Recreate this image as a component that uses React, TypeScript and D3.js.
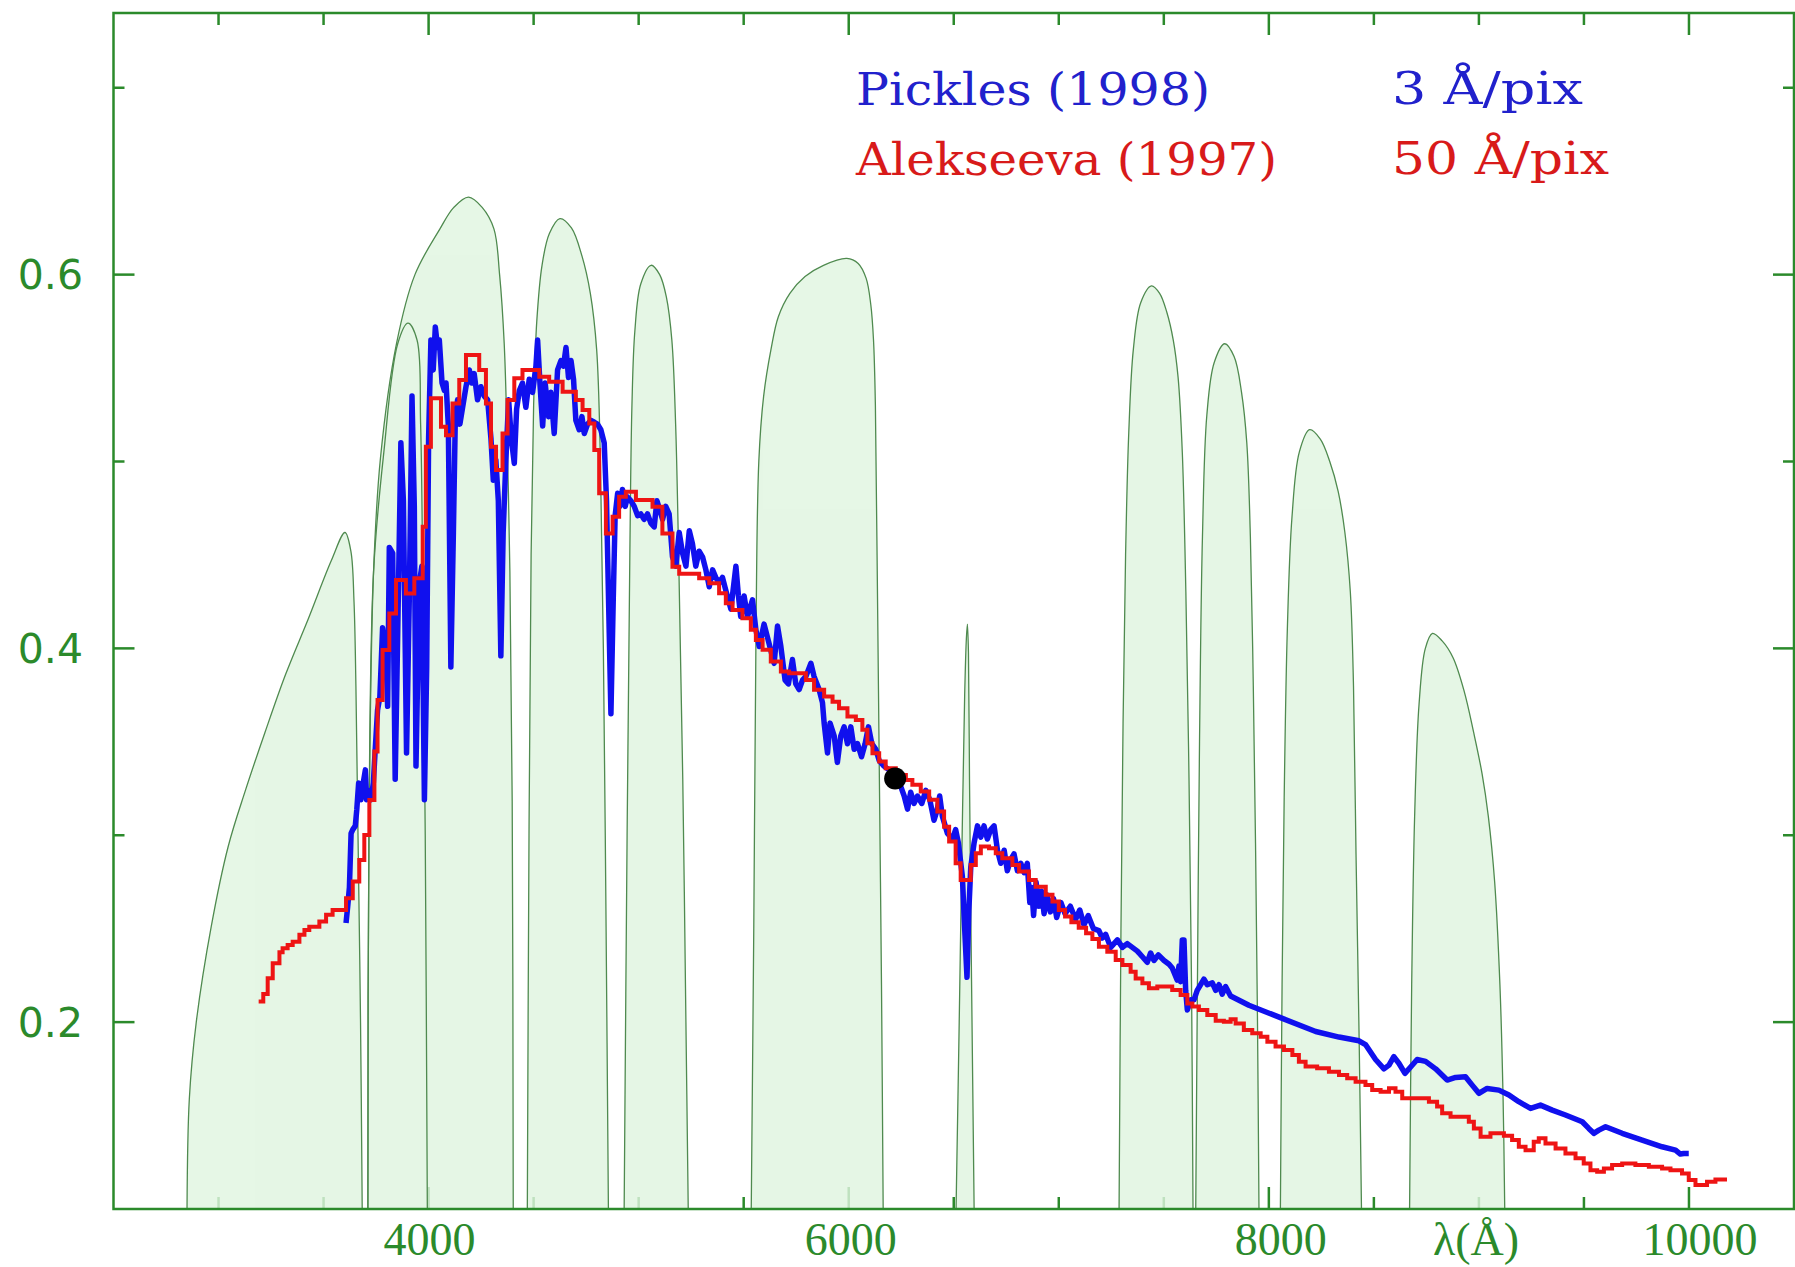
import * as d3 from "d3";

type Pt = [number, number];

// Pickles (1998) spectrum: [wavelength Å, flux]
const picklesFlux: Pt[] = [
  [3607, 0.253], [3615, 0.262], [3623, 0.272], [3631, 0.301], [3639, 0.303], [3651, 0.305], [3658, 0.3135],
  [3667, 0.328], [3678, 0.319], [3686, 0.326], [3699, 0.335], [3705, 0.319], [3715, 0.324], [3726, 0.319],
  [3737, 0.328], [3746, 0.346], [3757, 0.367], [3768, 0.374], [3781, 0.411], [3797, 0.397], [3805, 0.369],
  [3813, 0.454], [3829, 0.451], [3841, 0.33], [3853, 0.408], [3868, 0.51], [3880, 0.479], [3895, 0.344],
  [3908, 0.426], [3921, 0.535], [3932, 0.476], [3940, 0.337], [3956, 0.435], [3968, 0.444], [3980, 0.319],
  [3991, 0.39], [4000, 0.512], [4011, 0.565], [4022, 0.549], [4032, 0.572], [4043, 0.561], [4051, 0.565],
  [4064, 0.542], [4075, 0.538], [4083, 0.542], [4094, 0.519], [4106, 0.39], [4118, 0.462], [4127, 0.522],
  [4138, 0.533], [4149, 0.52], [4162, 0.529], [4178, 0.54], [4194, 0.549], [4205, 0.542], [4217, 0.547],
  [4233, 0.533], [4249, 0.54], [4265, 0.535], [4281, 0.533], [4297, 0.512], [4308, 0.49], [4320, 0.501],
  [4332, 0.479], [4344, 0.396], [4355, 0.462], [4368, 0.501], [4381, 0.533], [4394, 0.512], [4408, 0.499],
  [4419, 0.528], [4432, 0.538], [4447, 0.542], [4463, 0.529], [4479, 0.544], [4495, 0.537], [4511, 0.551],
  [4519, 0.565], [4530, 0.542], [4543, 0.519], [4555, 0.542], [4571, 0.524], [4582, 0.537], [4598, 0.515],
  [4614, 0.549], [4630, 0.554], [4642, 0.551], [4654, 0.561], [4666, 0.545], [4678, 0.554], [4690, 0.544],
  [4701, 0.522], [4717, 0.517], [4730, 0.524], [4741, 0.515], [4757, 0.52], [4773, 0.522], [4789, 0.521],
  [4804, 0.52], [4820, 0.517], [4836, 0.51], [4847, 0.479], [4860, 0.408], [4868, 0.365], [4879, 0.426],
  [4888, 0.471], [4900, 0.483], [4911, 0.476], [4923, 0.485], [4936, 0.476], [4947, 0.481], [4963, 0.479],
  [4979, 0.476], [4995, 0.471], [5010, 0.472], [5026, 0.469], [5042, 0.472], [5058, 0.467], [5074, 0.465],
  [5087, 0.479], [5101, 0.474], [5114, 0.469], [5129, 0.476], [5145, 0.472], [5161, 0.449], [5177, 0.444],
  [5193, 0.462], [5209, 0.451], [5225, 0.444], [5241, 0.463], [5256, 0.456], [5272, 0.444], [5288, 0.452],
  [5304, 0.449], [5320, 0.442], [5336, 0.433], [5352, 0.442], [5367, 0.438], [5383, 0.435], [5399, 0.438],
  [5415, 0.431], [5439, 0.421], [5463, 0.444], [5475, 0.428], [5486, 0.417], [5502, 0.428], [5518, 0.417],
  [5542, 0.426], [5558, 0.41], [5574, 0.401], [5597, 0.413], [5613, 0.406], [5629, 0.399], [5645, 0.392],
  [5661, 0.412], [5677, 0.401], [5697, 0.383], [5713, 0.381], [5732, 0.394], [5748, 0.381], [5764, 0.378],
  [5780, 0.383], [5796, 0.385], [5820, 0.392], [5835, 0.385], [5859, 0.378], [5875, 0.371], [5883, 0.36],
  [5899, 0.344], [5911, 0.36], [5931, 0.353], [5946, 0.339], [5962, 0.353], [5978, 0.358], [5994, 0.349],
  [6010, 0.358], [6026, 0.346], [6042, 0.349], [6061, 0.342], [6078, 0.349], [6094, 0.358], [6110, 0.349],
  [6129, 0.346], [6145, 0.34], [6168, 0.337], [6192, 0.335], [6224, 0.331], [6248, 0.326], [6264, 0.321],
  [6280, 0.314], [6295, 0.323], [6311, 0.317], [6327, 0.321], [6348, 0.317], [6367, 0.324], [6386, 0.319],
  [6406, 0.308], [6422, 0.314], [6433, 0.321], [6446, 0.31], [6470, 0.301], [6494, 0.298], [6509, 0.303],
  [6522, 0.296], [6541, 0.278], [6552, 0.25], [6563, 0.224], [6572, 0.26], [6581, 0.283], [6597, 0.296],
  [6613, 0.305], [6629, 0.299], [6644, 0.305], [6660, 0.298], [6676, 0.303], [6692, 0.305], [6708, 0.292],
  [6724, 0.285], [6740, 0.292], [6755, 0.281], [6771, 0.287], [6787, 0.29], [6803, 0.281], [6819, 0.285],
  [6835, 0.28], [6850, 0.285], [6862, 0.264], [6871, 0.272], [6880, 0.257], [6892, 0.275], [6905, 0.262],
  [6918, 0.27], [6930, 0.258], [6945, 0.268], [6960, 0.259], [6975, 0.266], [6990, 0.256], [7010, 0.264],
  [7030, 0.258], [7055, 0.262], [7080, 0.255], [7100, 0.26], [7120, 0.252], [7140, 0.257], [7165, 0.25],
  [7191, 0.249], [7207, 0.245], [7223, 0.247], [7247, 0.24], [7279, 0.244], [7303, 0.24], [7326, 0.242],
  [7350, 0.24], [7374, 0.238], [7398, 0.235], [7421, 0.232], [7437, 0.237], [7453, 0.233], [7474, 0.236],
  [7501, 0.233], [7525, 0.231], [7540, 0.229], [7564, 0.2225], [7572, 0.23], [7580, 0.2216], [7588, 0.244],
  [7596, 0.244], [7604, 0.217], [7612, 0.2065], [7628, 0.212], [7644, 0.212], [7659, 0.217], [7691, 0.223],
  [7707, 0.22], [7731, 0.221], [7747, 0.217], [7763, 0.22], [7778, 0.215], [7794, 0.219], [7818, 0.214],
  [7905, 0.209], [8064, 0.202], [8223, 0.195], [8334, 0.192], [8429, 0.19], [8460, 0.188], [8508, 0.18],
  [8548, 0.175], [8572, 0.177], [8595, 0.1815], [8619, 0.178], [8648, 0.1726], [8675, 0.176], [8706, 0.18],
  [8746, 0.179], [8794, 0.175], [8849, 0.169], [8889, 0.1704], [8936, 0.1708], [8968, 0.1663], [9000, 0.1619],
  [9039, 0.1645], [9095, 0.1636], [9143, 0.161], [9190, 0.1574], [9246, 0.1538], [9293, 0.1556], [9349, 0.1529],
  [9412, 0.1503], [9492, 0.1467], [9523, 0.1431], [9547, 0.1405], [9571, 0.1422], [9603, 0.144], [9682, 0.1405],
  [9777, 0.1369], [9872, 0.1333], [9936, 0.1315], [9959, 0.1294], [9975, 0.1297], [9999, 0.1297],
];

// Alekseeva (1997) spectrum, binned: [bin start Å, flux]
const alekseevaFlux: Pt[] = [
  [3191, 0.211], [3213, 0.215], [3234, 0.2235], [3258, 0.2315], [3290, 0.2374], [3305, 0.2395], [3329, 0.2413],
  [3353, 0.243], [3385, 0.2467], [3409, 0.2493], [3432, 0.251], [3480, 0.2538], [3512, 0.2574], [3543, 0.26],
  [3607, 0.2663], [3639, 0.2752], [3670, 0.2868], [3694, 0.3002], [3718, 0.3189], [3742, 0.3448], [3757, 0.3724],
  [3781, 0.3991], [3813, 0.4187], [3845, 0.4366], [3892, 0.4294], [3932, 0.4375], [3972, 0.4651], [3987, 0.5079],
  [4011, 0.5338], [4059, 0.5186], [4083, 0.514], [4114, 0.5311], [4146, 0.5436], [4178, 0.557], [4241, 0.549],
  [4273, 0.5311], [4297, 0.5079], [4321, 0.4954], [4352, 0.515], [4376, 0.5329], [4408, 0.5445], [4447, 0.549],
  [4527, 0.5454], [4574, 0.5427], [4638, 0.5373], [4701, 0.5329], [4733, 0.5275], [4765, 0.5204], [4789, 0.5061],
  [4812, 0.483], [4844, 0.4615], [4876, 0.4705], [4907, 0.4812], [4939, 0.4838], [4987, 0.4794], [5066, 0.4758],
  [5113, 0.4615], [5161, 0.4437], [5193, 0.44], [5288, 0.4375], [5336, 0.4349], [5383, 0.4295], [5415, 0.4241],
  [5447, 0.4206], [5494, 0.4161], [5534, 0.4099], [5558, 0.4045], [5590, 0.3992], [5629, 0.393], [5677, 0.3876],
  [5716, 0.3867], [5796, 0.3831], [5835, 0.3778], [5883, 0.3742], [5923, 0.3715], [5954, 0.368], [5994, 0.3635],
  [6034, 0.3617], [6065, 0.3564], [6089, 0.3492], [6113, 0.3439], [6145, 0.3394], [6176, 0.3359], [6224, 0.3323],
  [6272, 0.3296], [6303, 0.327], [6343, 0.3234], [6383, 0.319], [6422, 0.3127], [6454, 0.3046], [6478, 0.2966],
  [6509, 0.285], [6533, 0.2761], [6581, 0.2841], [6605, 0.2904], [6629, 0.294], [6668, 0.2931], [6700, 0.2904],
  [6731, 0.2877], [6779, 0.2841], [6811, 0.2806], [6858, 0.2761], [6890, 0.2725], [6938, 0.2681], [6970, 0.2645],
  [7000, 0.26], [7030, 0.2565], [7060, 0.2535], [7095, 0.2505], [7130, 0.2475], [7160, 0.2445], [7191, 0.2404],
  [7231, 0.2377], [7271, 0.2332], [7303, 0.2306], [7342, 0.227], [7366, 0.2234], [7398, 0.2208], [7429, 0.2181],
  [7469, 0.219], [7540, 0.2172], [7580, 0.2145], [7612, 0.21], [7636, 0.2083], [7667, 0.2065], [7707, 0.2038],
  [7747, 0.2008], [7786, 0.2002], [7818, 0.2015], [7842, 0.1993], [7881, 0.1958], [7921, 0.194], [7961, 0.1922],
  [7993, 0.1895], [8032, 0.1869], [8072, 0.1851], [8112, 0.1824], [8143, 0.1788], [8175, 0.1762], [8230, 0.1753],
  [8286, 0.1735], [8334, 0.1717], [8373, 0.1699], [8413, 0.1681], [8460, 0.1664], [8492, 0.1637], [8532, 0.1628],
  [8572, 0.1646], [8603, 0.1628], [8635, 0.1592], [8762, 0.1574], [8801, 0.1548], [8825, 0.1512], [8865, 0.1494],
  [8952, 0.1467], [8976, 0.1431], [9008, 0.1387], [9055, 0.1405], [9119, 0.1392], [9158, 0.1369], [9190, 0.1333],
  [9222, 0.1315], [9261, 0.136], [9285, 0.1378], [9317, 0.1351], [9365, 0.1324], [9412, 0.1297], [9460, 0.1271],
  [9499, 0.1244], [9531, 0.1208], [9563, 0.1199], [9595, 0.1217], [9634, 0.1235], [9682, 0.1244], [9745, 0.1235],
  [9809, 0.1226], [9872, 0.1217], [9912, 0.1208], [9967, 0.119], [9999, 0.1155], [10031, 0.1128], [10086, 0.1146],
  [10126, 0.1158], [10181, 0.1158],
];

// filter transmission curves (scaled to the flux axis)
const filterU: Pt[] = [
  [2850, 0.1], [2861, 0.159], [2894, 0.2], [2965, 0.251], [3046, 0.294], [3128, 0.324], [3221, 0.355],
  [3319, 0.386], [3428, 0.416], [3537, 0.447], [3602, 0.462], [3630, 0.452], [3645, 0.425], [3654, 0.38],
  [3664, 0.3], [3676, 0.2], [3684, 0.1],
];
const filter3900: Pt[] = [
  [3711, 0.1], [3716, 0.3], [3738, 0.441], [3787, 0.505], [3853, 0.563], [3902, 0.574], [3945, 0.565],
  [3962, 0.52], [3972, 0.44], [3984, 0.3], [3994, 0.1],
];
const filter4190: Pt[] = [
  [3711, 0.1], [3716, 0.3], [3738, 0.441], [3771, 0.502], [3847, 0.563], [3935, 0.6], [4054, 0.6245],
  [4120, 0.636], [4190, 0.6415], [4255, 0.636], [4311, 0.6245], [4338, 0.6], [4360, 0.563], [4376, 0.502],
  [4387, 0.441], [4398, 0.318], [4403, 0.1],
];
const filter4630: Pt[] = [
  [4470, 0.1], [4478, 0.3], [4488, 0.45], [4500, 0.53], [4515, 0.575], [4540, 0.605], [4575, 0.622],
  [4625, 0.63], [4680, 0.625], [4730, 0.61], [4770, 0.59], [4800, 0.56], [4818, 0.5], [4832, 0.4],
  [4845, 0.25], [4856, 0.1],
];
const filter5060: Pt[] = [
  [4931, 0.1], [4945, 0.3], [4958, 0.45], [4968, 0.53], [4982, 0.57], [5010, 0.595], [5059, 0.605],
  [5100, 0.6], [5132, 0.588], [5158, 0.565], [5176, 0.52], [5192, 0.44], [5210, 0.33], [5225, 0.2], [5236, 0.1],
];
const filter6000: Pt[] = [
  [5536, 0.1], [5548, 0.25], [5558, 0.4], [5572, 0.5], [5595, 0.535], [5630, 0.56], [5665, 0.5775],
  [5720, 0.59], [5792, 0.599], [5880, 0.605], [5991, 0.6087], [6045, 0.606], [6083, 0.598], [6105, 0.584],
  [6118, 0.565], [6127, 0.53], [6135, 0.45], [6146, 0.33], [6156, 0.22], [6164, 0.1],
];
const filter6565: Pt[] = [
  [6511, 0.1], [6526, 0.2], [6540, 0.3], [6552, 0.375], [6560, 0.405], [6565, 0.413], [6570, 0.398],
  [6575, 0.33], [6582, 0.25], [6590, 0.17], [6597, 0.1],
];
const filter7440: Pt[] = [
  [7287, 0.1], [7296, 0.25], [7306, 0.36], [7318, 0.45], [7333, 0.515], [7355, 0.56], [7390, 0.585],
  [7441, 0.594], [7480, 0.59], [7514, 0.58], [7545, 0.565], [7568, 0.545], [7588, 0.505], [7605, 0.43],
  [7620, 0.33], [7632, 0.22], [7639, 0.1],
];
const filter7790: Pt[] = [
  [7652, 0.1], [7660, 0.22], [7670, 0.35], [7684, 0.46], [7705, 0.525], [7740, 0.553], [7790, 0.563],
  [7835, 0.556], [7870, 0.537], [7895, 0.51], [7912, 0.46], [7926, 0.38], [7937, 0.292], [7946, 0.2], [7953, 0.1],
];
const filter8190: Pt[] = [
  [8055, 0.1], [8063, 0.22], [8073, 0.32], [8088, 0.41], [8110, 0.47], [8145, 0.505], [8194, 0.517],
  [8245, 0.512], [8290, 0.5], [8330, 0.484], [8362, 0.462], [8388, 0.43], [8403, 0.38], [8415, 0.29],
  [8430, 0.19], [8441, 0.1],
];
const filter8780: Pt[] = [
  [8670, 0.1], [8680, 0.22], [8694, 0.31], [8715, 0.37], [8745, 0.4], [8779, 0.408], [8825, 0.404],
  [8877, 0.395], [8930, 0.377], [8975, 0.355], [9015, 0.333], [9045, 0.31], [9075, 0.275], [9100, 0.22],
  [9115, 0.16], [9123, 0.1],
];
const filterCurves = [
  filterU, filter4190, filter3900, filter4630, filter5060, filter6000,
  filter6565, filter7440, filter7790, filter8190, filter8780,
];

const normPoint: Pt = [6221, 0.3304];

const yMajorTicks = [0.2, 0.4, 0.6];
const yMinorTicks = [0.3, 0.5, 0.7];
const yTickLabels = ["0.2", "0.4", "0.6"];
const xMajorTicks = [4000, 6000, 8000, 10000];
const xMinorTicks = [3000, 3500, 4500, 5000, 5500, 6500, 7000, 7500, 8500, 9000, 9500];
const xTickLabels = ["4000", "6000", "8000", "10000"];
const xLabelShift = [1, 2, 12, 11];

const legendNames = ["Pickles (1998)", "Alekseeva (1997)"];
const legendRes = ["3 Å/pix", "50 Å/pix"];

export default function App() {
  const width = 1795;
  const height = 1267;
  const green = "#2b8a2b";
  const blue = "#1010ee";
  const red = "#ee1414";

  const x = d3.scaleLinear().domain([2500, 10500]).range([113.5, 1794]);
  const y = d3.scaleLinear().domain([0.1, 0.74]).range([1209, 13]);
  const x0 = x(2500), x1 = x(10500), yb = y(0.1), yt = y(0.74);

  const smooth = d3.curveCatmullRom.alpha(0.5);
  const filterArea = d3.area<Pt>()
    .x((d) => x(d[0]))
    .y0(yb)
    .y1((d) => y(d[1]))
    .curve(smooth);
  const filterLine = d3.line<Pt>()
    .x((d) => x(d[0]))
    .y((d) => y(d[1]))
    .curve(smooth);
  const blueLine = d3.line<Pt>().x((d) => x(d[0])).y((d) => y(d[1]));
  const redLine = d3.line<Pt>()
    .x((d) => x(d[0]))
    .y((d) => y(d[1]))
    .curve(d3.curveStepAfter);

  return (
    <svg
      width={width}
      height={height}
      style={{ position: "absolute", left: 0, top: 0, display: "block" }}
    >
      <defs>
        <clipPath id="plot-clip">
          <rect x={x0} y={yt} width={x1 - x0} height={yb - yt} />
        </clipPath>
      </defs>
      <rect width={width} height={height} fill="#fff" />

      {/* bottom ticks sit under the filter fills */}
      <g stroke={green} strokeWidth={2.5}>
        {xMajorTicks.map((t) => (
          <line key={t} x1={x(t)} x2={x(t)} y1={yb} y2={yb - 22} />
        ))}
        {xMinorTicks.map((t) => (
          <line key={t} x1={x(t)} x2={x(t)} y1={yb} y2={yb - 12} />
        ))}
      </g>

      <g clipPath="url(#plot-clip)">
        <g opacity={0.82}>
          {filterCurves.map((f, i) => (
            <path key={i} d={filterArea(f) ?? ""} fill="#e0f5e0" />
          ))}
        </g>
        <g fill="none" stroke="#4f8a4f" strokeWidth={1.3}>
          {filterCurves.map((f, i) => (
            <path key={i} d={filterLine(f) ?? ""} />
          ))}
        </g>
      </g>

      <path
        d={blueLine(picklesFlux) ?? ""}
        fill="none"
        stroke={blue}
        strokeWidth={5.5}
        strokeLinejoin="round"
      />
      <path
        d={redLine(alekseevaFlux) ?? ""}
        fill="none"
        stroke={red}
        strokeWidth={4}
      />
      <circle cx={x(normPoint[0])} cy={y(normPoint[1])} r={11} fill="#000" />

      {/* frame and the other ticks */}
      <g stroke={green} strokeWidth={2.5} fill="none">
        <rect x={x0} y={yt} width={x1 - x0} height={yb - yt} />
        {xMajorTicks.map((t) => (
          <line key={t} x1={x(t)} x2={x(t)} y1={yt} y2={yt + 22} />
        ))}
        {xMinorTicks.map((t) => (
          <line key={t} x1={x(t)} x2={x(t)} y1={yt} y2={yt + 12} />
        ))}
        {yMajorTicks.map((t) => (
          <g key={t}>
            <line x1={x0} x2={x0 + 21} y1={y(t)} y2={y(t)} />
            <line x1={x1} x2={x1 - 21} y1={y(t)} y2={y(t)} />
          </g>
        ))}
        {yMinorTicks.map((t) => (
          <g key={t}>
            <line x1={x0} x2={x0 + 11} y1={y(t)} y2={y(t)} />
            <line x1={x1} x2={x1 - 11} y1={y(t)} y2={y(t)} />
          </g>
        ))}
      </g>

      <g fill={green} fontFamily="DejaVu Sans" fontSize={41} textAnchor="end">
        {yMajorTicks.map((t, i) => (
          <text key={t} x={83} y={y(t) + 14.5}>
            {yTickLabels[i]}
          </text>
        ))}
      </g>
      <g fill={green} fontFamily="Liberation Serif" fontSize={46} textAnchor="middle">
        {xMajorTicks.map((t, i) => (
          <text key={t} x={x(t) + xLabelShift[i]} y={1255}>
            {xTickLabels[i]}
          </text>
        ))}
        <text x={1476} y={1255}>λ(Å)</text>
      </g>

      <g fontFamily="DejaVu Serif" fontSize={44}>
        <text x={856} y={105} fill="#2121cc" textLength={354} lengthAdjust="spacingAndGlyphs">
          {legendNames[0]}
        </text>
        <text x={1392} y={104} fill="#2121cc" textLength={191} lengthAdjust="spacingAndGlyphs">
          {legendRes[0]}
        </text>
        <text x={856} y={175} fill="#d81a1a" textLength={421} lengthAdjust="spacingAndGlyphs">
          {legendNames[1]}
        </text>
        <text x={1392} y={174} fill="#d81a1a" textLength={217} lengthAdjust="spacingAndGlyphs">
          {legendRes[1]}
        </text>
      </g>
    </svg>
  );
}
